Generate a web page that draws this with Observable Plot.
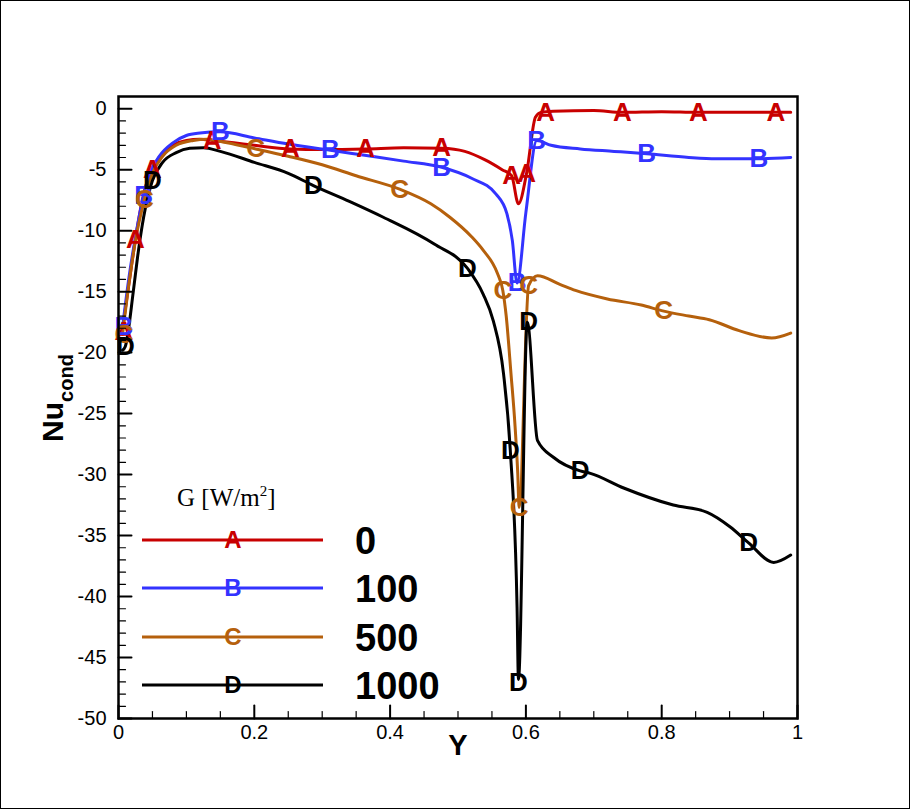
<!DOCTYPE html>
<html><head><meta charset="utf-8">
<script src="https://cdn.jsdelivr.net/npm/d3@7"></script>
<script src="https://cdn.jsdelivr.net/npm/@observablehq/plot@0.6"></script>
<style>body{margin:0;background:#fff} svg{display:block}</style>
</head><body><div id="chart"></div>
<script>
const seriesNames = ["A", "B", "C", "D"];
const seriesLabels = ["0", "100", "500", "1000"];
const seriesColors = ["#c80000", "#3333ff", "#b5600c", "#000000"];

// Series A (G = 0)
const yA  = [0.006,0.015,0.025,0.035,0.047,0.06,0.08,0.10,0.12,0.138,0.17,0.20,0.253,0.30,0.364,0.42,0.476,0.51,0.54,0.565,0.579,0.589,0.601,0.614,0.622,0.64,0.70,0.742,0.80,0.854,0.90,0.967,0.99];
const nuA = [-18.0,-14.5,-10.7,-7.5,-5.2,-4.0,-3.0,-2.6,-2.5,-2.6,-2.8,-3.0,-3.3,-3.35,-3.3,-3.2,-3.25,-3.5,-4.2,-5.0,-5.5,-7.8,-5.3,-0.7,-0.3,-0.2,-0.15,-0.3,-0.25,-0.3,-0.3,-0.3,-0.3];
// Series B (G = 100)
const yB  = [0.006,0.015,0.025,0.037,0.047,0.06,0.08,0.10,0.12,0.15,0.20,0.25,0.312,0.36,0.42,0.476,0.52,0.556,0.572,0.580,0.587,0.600,0.616,0.637,0.68,0.73,0.778,0.84,0.88,0.943,0.99];
const nuB = [-17.9,-14.0,-10.5,-7.1,-5.2,-3.9,-2.8,-2.2,-2.0,-1.9,-2.4,-2.9,-3.4,-3.8,-4.3,-4.8,-5.7,-7.0,-8.6,-10.8,-14.3,-8.5,-2.6,-3.0,-3.3,-3.5,-3.7,-4.0,-4.1,-4.1,-4.0];
// Series C (G = 500)
const yC  = [0.006,0.015,0.025,0.038,0.05,0.065,0.085,0.11,0.13,0.16,0.202,0.25,0.30,0.35,0.414,0.46,0.488,0.52,0.537,0.558,0.566,0.571,0.578,0.584,0.588,0.590,0.604,0.617,0.65,0.673,0.72,0.77,0.803,0.84,0.87,0.914,0.962,0.99];
const nuC = [-18.5,-14.5,-10.8,-7.5,-5.3,-3.9,-3.0,-2.6,-2.5,-2.8,-3.3,-3.9,-4.6,-5.5,-6.6,-7.8,-8.9,-10.5,-11.6,-13.5,-14.9,-17.0,-21.7,-26.0,-29.9,-32.7,-14.5,-13.7,-14.4,-14.9,-15.6,-16.1,-16.6,-17.0,-17.3,-18.2,-18.8,-18.4];
// Series D (G = 1000)
const yD  = [0.006,0.01,0.022,0.028,0.037,0.05,0.065,0.085,0.105,0.125,0.15,0.20,0.25,0.287,0.34,0.39,0.465,0.514,0.537,0.552,0.567,0.577,0.587,0.589,0.602,0.617,0.641,0.68,0.695,0.744,0.817,0.867,0.901,0.928,0.965,0.99];
const nuD = [-19.8,-19.5,-14.9,-12.2,-8.9,-5.9,-4.4,-3.6,-3.25,-3.2,-3.5,-4.4,-5.3,-6.3,-7.6,-8.9,-11.1,-13.1,-15.2,-17.4,-21.7,-28.0,-40.9,-46.8,-17.5,-27.2,-28.6,-29.7,-29.9,-31.1,-32.5,-33.1,-34.3,-35.6,-37.2,-36.6];

// Letter-symbol positions
const mkYA  = [0.008,0.025,0.05,0.138,0.253,0.364,0.476,0.579,0.601,0.629,0.742,0.854,0.968];
const mkNuA = [-18.3,-10.7,-5.0,-2.6,-3.3,-3.3,-3.2,-5.5,-5.3,-0.3,-0.3,-0.3,-0.3];
const mkYB  = [0.008,0.037,0.15,0.312,0.476,0.587,0.616,0.778,0.943];
const mkNuB = [-17.9,-7.1,-1.9,-3.4,-4.8,-14.3,-2.6,-3.7,-4.1];
const mkYC  = [0.008,0.038,0.202,0.414,0.566,0.590,0.604,0.803];
const mkNuC = [-18.5,-7.5,-3.3,-6.6,-14.9,-32.7,-14.5,-16.6];
const mkYD  = [0.01,0.05,0.287,0.514,0.577,0.589,0.604,0.68,0.928];
const mkNuD = [-19.5,-5.9,-6.3,-13.1,-28.0,-47.1,-17.5,-29.7,-35.6];

const xTicks = [0, 0.2, 0.4, 0.6, 0.8, 1];
const xTickLabels = ["0", "0.2", "0.4", "0.6", "0.8", "1"];
const yTicks = [0, -5, -10, -15, -20, -25, -30, -35, -40, -45, -50];
const yTickLabels = ["0", "-5", "-10", "-15", "-20", "-25", "-30", "-35", "-40", "-45", "-50"];

const lineSets = [[yA, nuA], [yB, nuB], [yC, nuC], [yD, nuD]];
const markSets = [[mkYA, mkNuA], [mkYB, mkNuB], [mkYC, mkNuC], [mkYD, mkNuD]];
const lines = lineSets.flatMap(([xs, ys], i) => xs.map((x, j) => ({series: seriesNames[i], Y: x, Nu: ys[j]})));
const marks = markSets.flatMap(([xs, ys], i) => xs.map((x, j) => ({series: seriesNames[i], Y: x, Nu: ys[j]})));

const xMinor = d3.range(0, 1.0001, 0.05).filter(v => Math.abs(v * 5 - Math.round(v * 5)) > 1e-6);
const yMinor = d3.range(-50, 1, 1).filter(v => v % 5 !== 0);

const tickShape = {draw(context, l) { context.moveTo(0, 0); context.lineTo(0, -l); }};
const font = "'Liberation Sans', Arial, Helvetica, sans-serif";
const lw = 3;

const plot = Plot.plot({
  width: 910, height: 809,
  marginLeft: 118, marginRight: 113, marginTop: 96, marginBottom: 91,
  style: {fontFamily: font, background: "white", color: "black"},
  x: {domain: [0, 1]},
  y: {domain: [-50, 1]},
  color: {domain: seriesNames, range: seriesColors},
  marks: [
    Plot.line(lines, {x: "Y", y: "Nu", z: "series", stroke: "series", strokeWidth: lw, curve: "monotone-x"}),
    Plot.text(marks, {x: "Y", y: "Nu", text: "series", fill: "series", fontSize: 26, fontWeight: "bold", lineAnchor: "middle", textAnchor: "middle"}),
    Plot.vector(yTicks, {y: d => d, frameAnchor: "left", rotate: 90, length: 13, anchor: "start", shape: tickShape, stroke: "black", strokeWidth: 2}),
    Plot.vector(yMinor, {y: d => d, frameAnchor: "left", rotate: 90, length: 7, anchor: "start", shape: tickShape, stroke: "black", strokeWidth: 1.2}),
    Plot.vector(xTicks, {x: d => d, frameAnchor: "bottom", rotate: 0, length: 13, anchor: "start", shape: tickShape, stroke: "black", strokeWidth: 2}),
    Plot.vector(xMinor, {x: d => d, frameAnchor: "bottom", rotate: 0, length: 7, anchor: "start", shape: tickShape, stroke: "black", strokeWidth: 1.2}),
    Plot.frame({stroke: "black", strokeWidth: 2.5}),
    Plot.axisY({ticks: yTicks, tickSize: 0, tickPadding: 12, tickFormat: d => yTickLabels[yTicks.indexOf(d)], fontSize: 20, label: null}),
    Plot.axisX({ticks: xTicks, tickSize: 0, tickPadding: 6, tickFormat: d => xTickLabels[xTicks.indexOf(d)], fontSize: 20, label: null}),
    Plot.text(["Y"], {frameAnchor: "bottom", dy: 27, text: d => d, fontSize: 29, fontWeight: "bold", lineAnchor: "middle", textAnchor: "middle"})
  ]
});

const svg = d3.select(plot);
// outer border
svg.append("rect").attr("x", 0.5).attr("y", 0.5).attr("width", 909).attr("height", 808)
  .attr("fill", "none").attr("stroke", "black").attr("stroke-width", 1);

// y-axis title Nu_cond
const yt = svg.append("text").attr("transform", "translate(63,398) rotate(-90)")
  .attr("text-anchor", "middle").attr("font-family", font).attr("font-weight", "bold").attr("fill", "black");
yt.append("tspan").attr("font-size", 30).text("Nu");
yt.append("tspan").attr("font-size", 20).attr("dy", 10).text("cond");

// legend
const lg = svg.append("g").attr("text-anchor", "start");
const lt = lg.append("text").attr("x", 177).attr("y", 506).attr("text-anchor", "start")
  .attr("font-family", "'Liberation Serif', 'Times New Roman', serif")
  .attr("font-size", 25).attr("fill", "black");
lt.append("tspan").text("G [W/m");
lt.append("tspan").attr("font-size", 15).attr("dy", -10).text("2");
lt.append("tspan").attr("dy", 10).text("]");
const legendY = [540, 588, 637, 685];
seriesNames.forEach((s, i) => {
  const y = legendY[i];
  lg.append("line").attr("x1", 142).attr("x2", 323).attr("y1", y).attr("y2", y)
    .attr("stroke", seriesColors[i]).attr("stroke-width", lw);
  lg.append("text").attr("x", 233).attr("y", y).attr("dy", "0.32em").attr("text-anchor", "middle")
    .attr("font-family", font).attr("font-weight", "bold").attr("font-size", 24).attr("fill", seriesColors[i]).text(s);
  lg.append("text").attr("x", 355).attr("y", y + 13.5).attr("text-anchor", "start")
    .attr("font-family", font).attr("font-weight", "bold").attr("font-size", 38).attr("fill", "black").text(seriesLabels[i]);
});

document.getElementById("chart").appendChild(plot);
</script>
</body></html>
